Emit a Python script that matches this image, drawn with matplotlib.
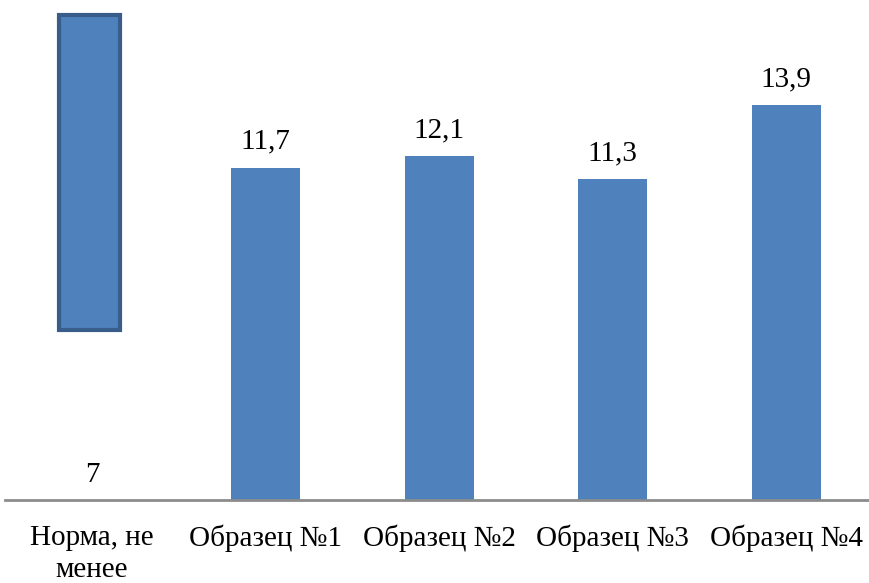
import matplotlib.pyplot as plt

categories = ['Норма, не\nменее', 'Образец №1', 'Образец №2', 'Образец №3', 'Образец №4']
values = [None, 11.7, 12.1, 11.3, 13.9]
value_labels = ['7', '11,7', '12,1', '11,3', '13,9']
norm_bottom = 6.0
norm_top = 17.08


def main():
    plt.rcParams['font.family'] = ['Liberation Serif', 'DejaVu Serif']
    fig = plt.figure(figsize=(8.7, 5.83), dpi=100)
    ax = fig.add_axes([0.006, 0.1424, 0.9975, 0.8576])

    xs = list(range(len(categories)))
    for i in xs[1:]:
        ax.bar(i, values[i], width=0.397, color='#4F81BD')
        ax.text(i, values[i] + 0.45, value_labels[i], ha='center', va='bottom', fontsize=21)

    # norm shown as a floating block
    ax.bar(-0.015, norm_top - norm_bottom, bottom=norm_bottom, width=0.355,
           color='#4F81BD', edgecolor='#385D8A', linewidth=3)
    ax.text(0, 0.88, value_labels[0], ha='center', va='center', fontsize=21)

    ax.set_xlim(-0.5, 4.5)
    ax.set_ylim(0, 17.6)
    ax.set_xticks(xs)
    ax.set_xticklabels(categories, fontsize=21, linespacing=1.3)
    ax.tick_params(axis='x', length=0, pad=18)
    ax.set_yticks([])
    for s in ['top', 'right', 'left']:
        ax.spines[s].set_visible(False)
    ax.spines['bottom'].set_color('#8C8C8C')
    ax.spines['bottom'].set_linewidth(2)

    fig.savefig('out.png', dpi=100)


if __name__ == '__main__':
    main()
